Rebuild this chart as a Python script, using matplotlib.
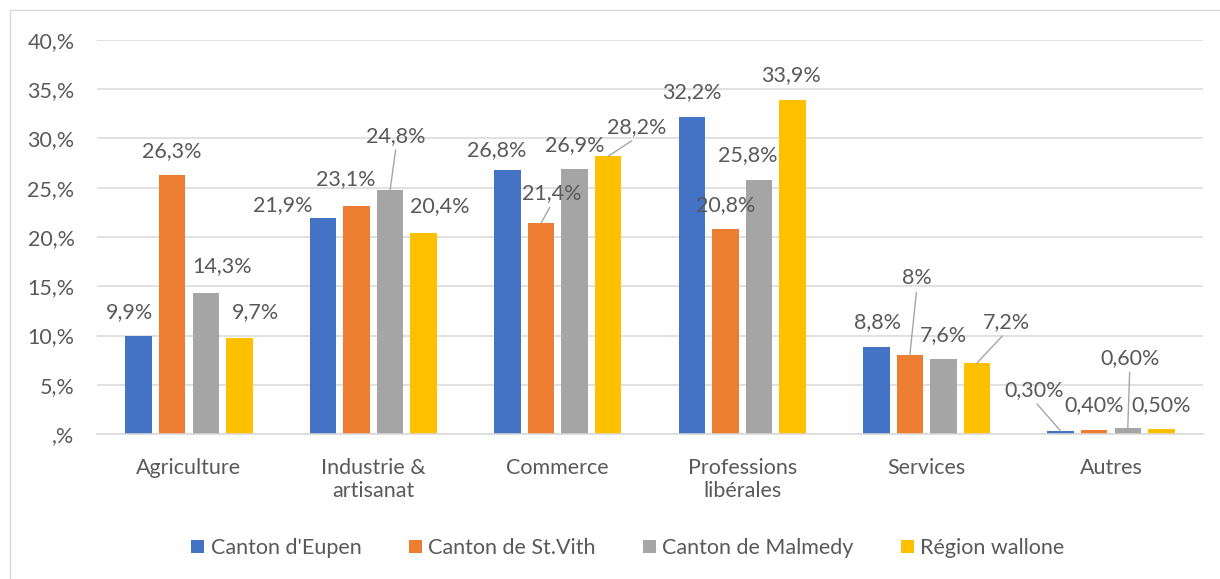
# ── Grouped bar chart: share of self-employed by sector ───────────────────
import numpy as np
import matplotlib
matplotlib.use('Agg')
import matplotlib.pyplot as plt

# ── Data ──────────────────────────────────────────────────────────────────
categories = ['Agriculture', 'Industrie &\nartisanat', 'Commerce',
              'Professions\nlibérales', 'Services', 'Autres']
series_names = ["Canton d'Eupen", 'Canton de St.Vith',
                'Canton de Malmedy', 'Région wallone']
eupen    = [9.9, 21.9, 26.8, 32.2, 8.8, 0.3]
st_vith  = [26.3, 23.1, 21.4, 20.8, 8.0, 0.4]
malmedy  = [14.3, 24.8, 26.9, 25.8, 7.6, 0.6]
wallonie = [9.7, 20.4, 28.2, 33.9, 7.2, 0.5]
labels_eupen    = ['9,9%', '21,9%', '26,8%', '32,2%', '8,8%', '0,30%']
labels_st_vith  = ['26,3%', '23,1%', '21,4%', '20,8%', '8%', '0,40%']
labels_malmedy  = ['14,3%', '24,8%', '26,9%', '25,8%', '7,6%', '0,60%']
labels_wallonie = ['9,7%', '20,4%', '28,2%', '33,9%', '7,2%', '0,50%']
y_ticks = [0, 5, 10, 15, 20, 25, 30, 35, 40]

# ── Style ─────────────────────────────────────────────────────────────────
COLOURS  = ['#4472C4', '#ED7D31', '#A5A5A5', '#FFC000']
TEXT_FG  = '#595959'
GRID     = '#D9D9D9'
LEADER   = '#A6A6A6'
FONT     = 'Lato'
FS       = 15.5

# label offsets from bar top (pixels: dx right, dy up) + leader-line flag
# per series, per category
LABEL_OFFSETS = [
    [(-9, 24), (-40, 13), (-11, 20), (0, 25), (1, 25), (-27, 41)],
    [(0, 24), (-11, 27), (11, 30), (0, 24), (7, 77), (0, 25)],
    [(16, 27), (6, 54), (0, 24), (-11, 25), (0, 24), (2, 70)],
    [(16, 26), (16, 27), (29, 29), (-2, 25), (29, 41), (0, 24)],
]
LEADERS = [
    [0, 0, 0, 0, 0, 1],
    [0, 0, 1, 0, 1, 0],
    [0, 1, 0, 0, 0, 1],
    [0, 0, 1, 0, 1, 0],
]

plt.rcParams['font.family'] = [FONT, 'DejaVu Sans']

fig = plt.figure(figsize=(12.2, 5.79), dpi=100)
ax = fig.add_axes([96.8 / 1220, 145 / 579, 1106.4 / 1220, 394 / 579])

values = [eupen, st_vith, malmedy, wallonie]
texts = [labels_eupen, labels_st_vith, labels_malmedy, labels_wallonie]
x = np.arange(len(categories))
step = 0.182
width = 0.144
px2pt = 72 / 100

for j, (vals, name) in enumerate(zip(values, series_names)):
    xs = x + (j - 1.5) * step
    ax.bar(xs, vals, width=width, color=COLOURS[j], label=name, zorder=3)
    for i, (xi, v) in enumerate(zip(xs, vals)):
        dx, dy = LABEL_OFFSETS[j][i]
        kw = {}
        if LEADERS[j][i]:
            kw['arrowprops'] = dict(arrowstyle='-', color=LEADER, lw=1.0,
                                    shrinkA=1, shrinkB=0, relpos=(0.5, 0.0))
        ax.annotate(texts[j][i], xy=(xi, v),
                    xytext=(dx * px2pt, dy * px2pt), textcoords='offset points',
                    ha='center', va='center', fontsize=FS, color=TEXT_FG,
                    zorder=4, **kw)

# ── Axes styling ──────────────────────────────────────────────────────────
ax.set_xlim(-0.5, len(categories) - 0.5)
ax.set_ylim(0, 40)
ax.set_yticks(y_ticks)
ax.set_yticklabels([(f'{t}' if t else '') + ',%' for t in y_ticks])
ax.set_xticks(x)
ax.set_xticklabels(categories, linespacing=1.2)
ax.tick_params(axis='y', length=0, pad=16, labelsize=FS, labelcolor=TEXT_FG)
ax.tick_params(axis='x', length=0, pad=17, labelsize=FS, labelcolor=TEXT_FG)
ax.grid(axis='y', color=GRID, lw=1.1, zorder=0)
for s in ['top', 'right', 'left']:
    ax.spines[s].set_visible(False)
ax.spines['bottom'].set_color(GRID)
ax.spines['bottom'].set_linewidth(1.1)
ax.spines['bottom'].set_zorder(3.5)

# ── Legend ────────────────────────────────────────────────────────────────
fig.legend(loc='center', bbox_to_anchor=(628 / 1220, 1 - 548 / 579), ncol=4,
           frameon=False, fontsize=FS, labelcolor=TEXT_FG,
           handlelength=0.6, handleheight=0.6, handletextpad=0.3,
           columnspacing=2.2)

# ── Chart border ──────────────────────────────────────────────────────────
fig.add_artist(plt.Rectangle((10 / 1220, -0.05), 1.1, 1 - 10 / 579 + 0.05,
                             transform=fig.transFigure, fill=False,
                             edgecolor=GRID, lw=1.0))

fig.savefig('out.png', dpi=100, facecolor='white')
